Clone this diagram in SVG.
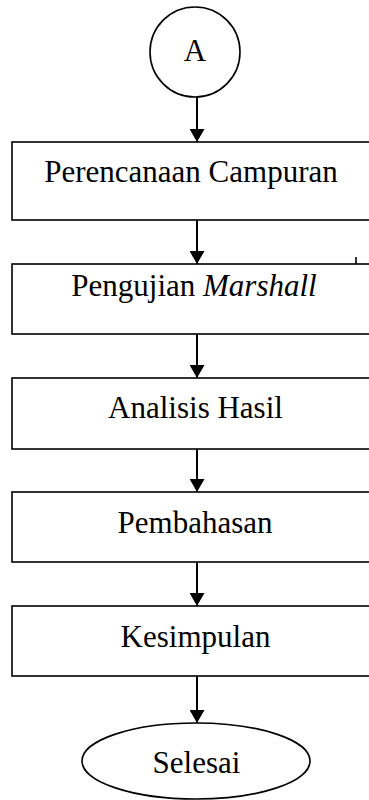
<svg xmlns="http://www.w3.org/2000/svg" width="369" height="800" viewBox="0 0 369 800">
<style>
.box{fill:#fff;stroke:#000;stroke-width:1.6}
.t{font-family:"Liberation Serif","Times New Roman",serif;font-size:31px;fill:#000;text-anchor:middle}
.c{stroke:#000;stroke-width:2;fill:none}
</style>
<defs>
<marker id="ah" markerWidth="14" markerHeight="15" refX="13" refY="7.5" orient="auto" markerUnits="userSpaceOnUse">
<path d="M0,0 L13,7.5 L0,15 Z" fill="#000"/>
</marker>
</defs>
<rect width="369" height="800" fill="#fff"/>
<g id="start">
<circle cx="195" cy="52" r="45" class="box"/>
<text x="195" y="61" class="t">A</text>
</g>
<g id="n1">
<rect x="12" y="142" width="380" height="78" class="box"/>
<text x="191" y="182" class="t">Perencanaan Campuran</text>
</g>
<g id="n2">
<rect x="12" y="264" width="380" height="70" class="box"/>
<text x="194" y="296" class="t">Pengujian <tspan font-style="italic">Marshall</tspan></text>
</g>
<g id="n3">
<rect x="12" y="378" width="380" height="71" class="box"/>
<text x="195.5" y="418" class="t">Analisis Hasil</text>
</g>
<g id="n4">
<rect x="12" y="492" width="380" height="70" class="box"/>
<text x="195" y="533" class="t">Pembahasan</text>
</g>
<g id="n5">
<rect x="12" y="606" width="380" height="70" class="box"/>
<text x="195.5" y="647" class="t">Kesimpulan</text>
</g>
<g id="end">
<ellipse cx="196" cy="761" rx="114" ry="38" class="box"/>
<text x="196.5" y="773" class="t">Selesai</text>
</g>
<g id="connectors">
<line x1="197" y1="97" x2="197" y2="142" class="c" marker-end="url(#ah)"/>
<line x1="197" y1="220" x2="197" y2="264" class="c" marker-end="url(#ah)"/>
<line x1="197" y1="334" x2="197" y2="378" class="c" marker-end="url(#ah)"/>
<line x1="197" y1="449" x2="197" y2="492" class="c" marker-end="url(#ah)"/>
<line x1="197" y1="562" x2="197" y2="606" class="c" marker-end="url(#ah)"/>
<line x1="197" y1="676" x2="197" y2="723" class="c" marker-end="url(#ah)"/>
</g>
<line x1="356" y1="257" x2="356" y2="264" stroke="#000" stroke-width="1.6"/>
</svg>
